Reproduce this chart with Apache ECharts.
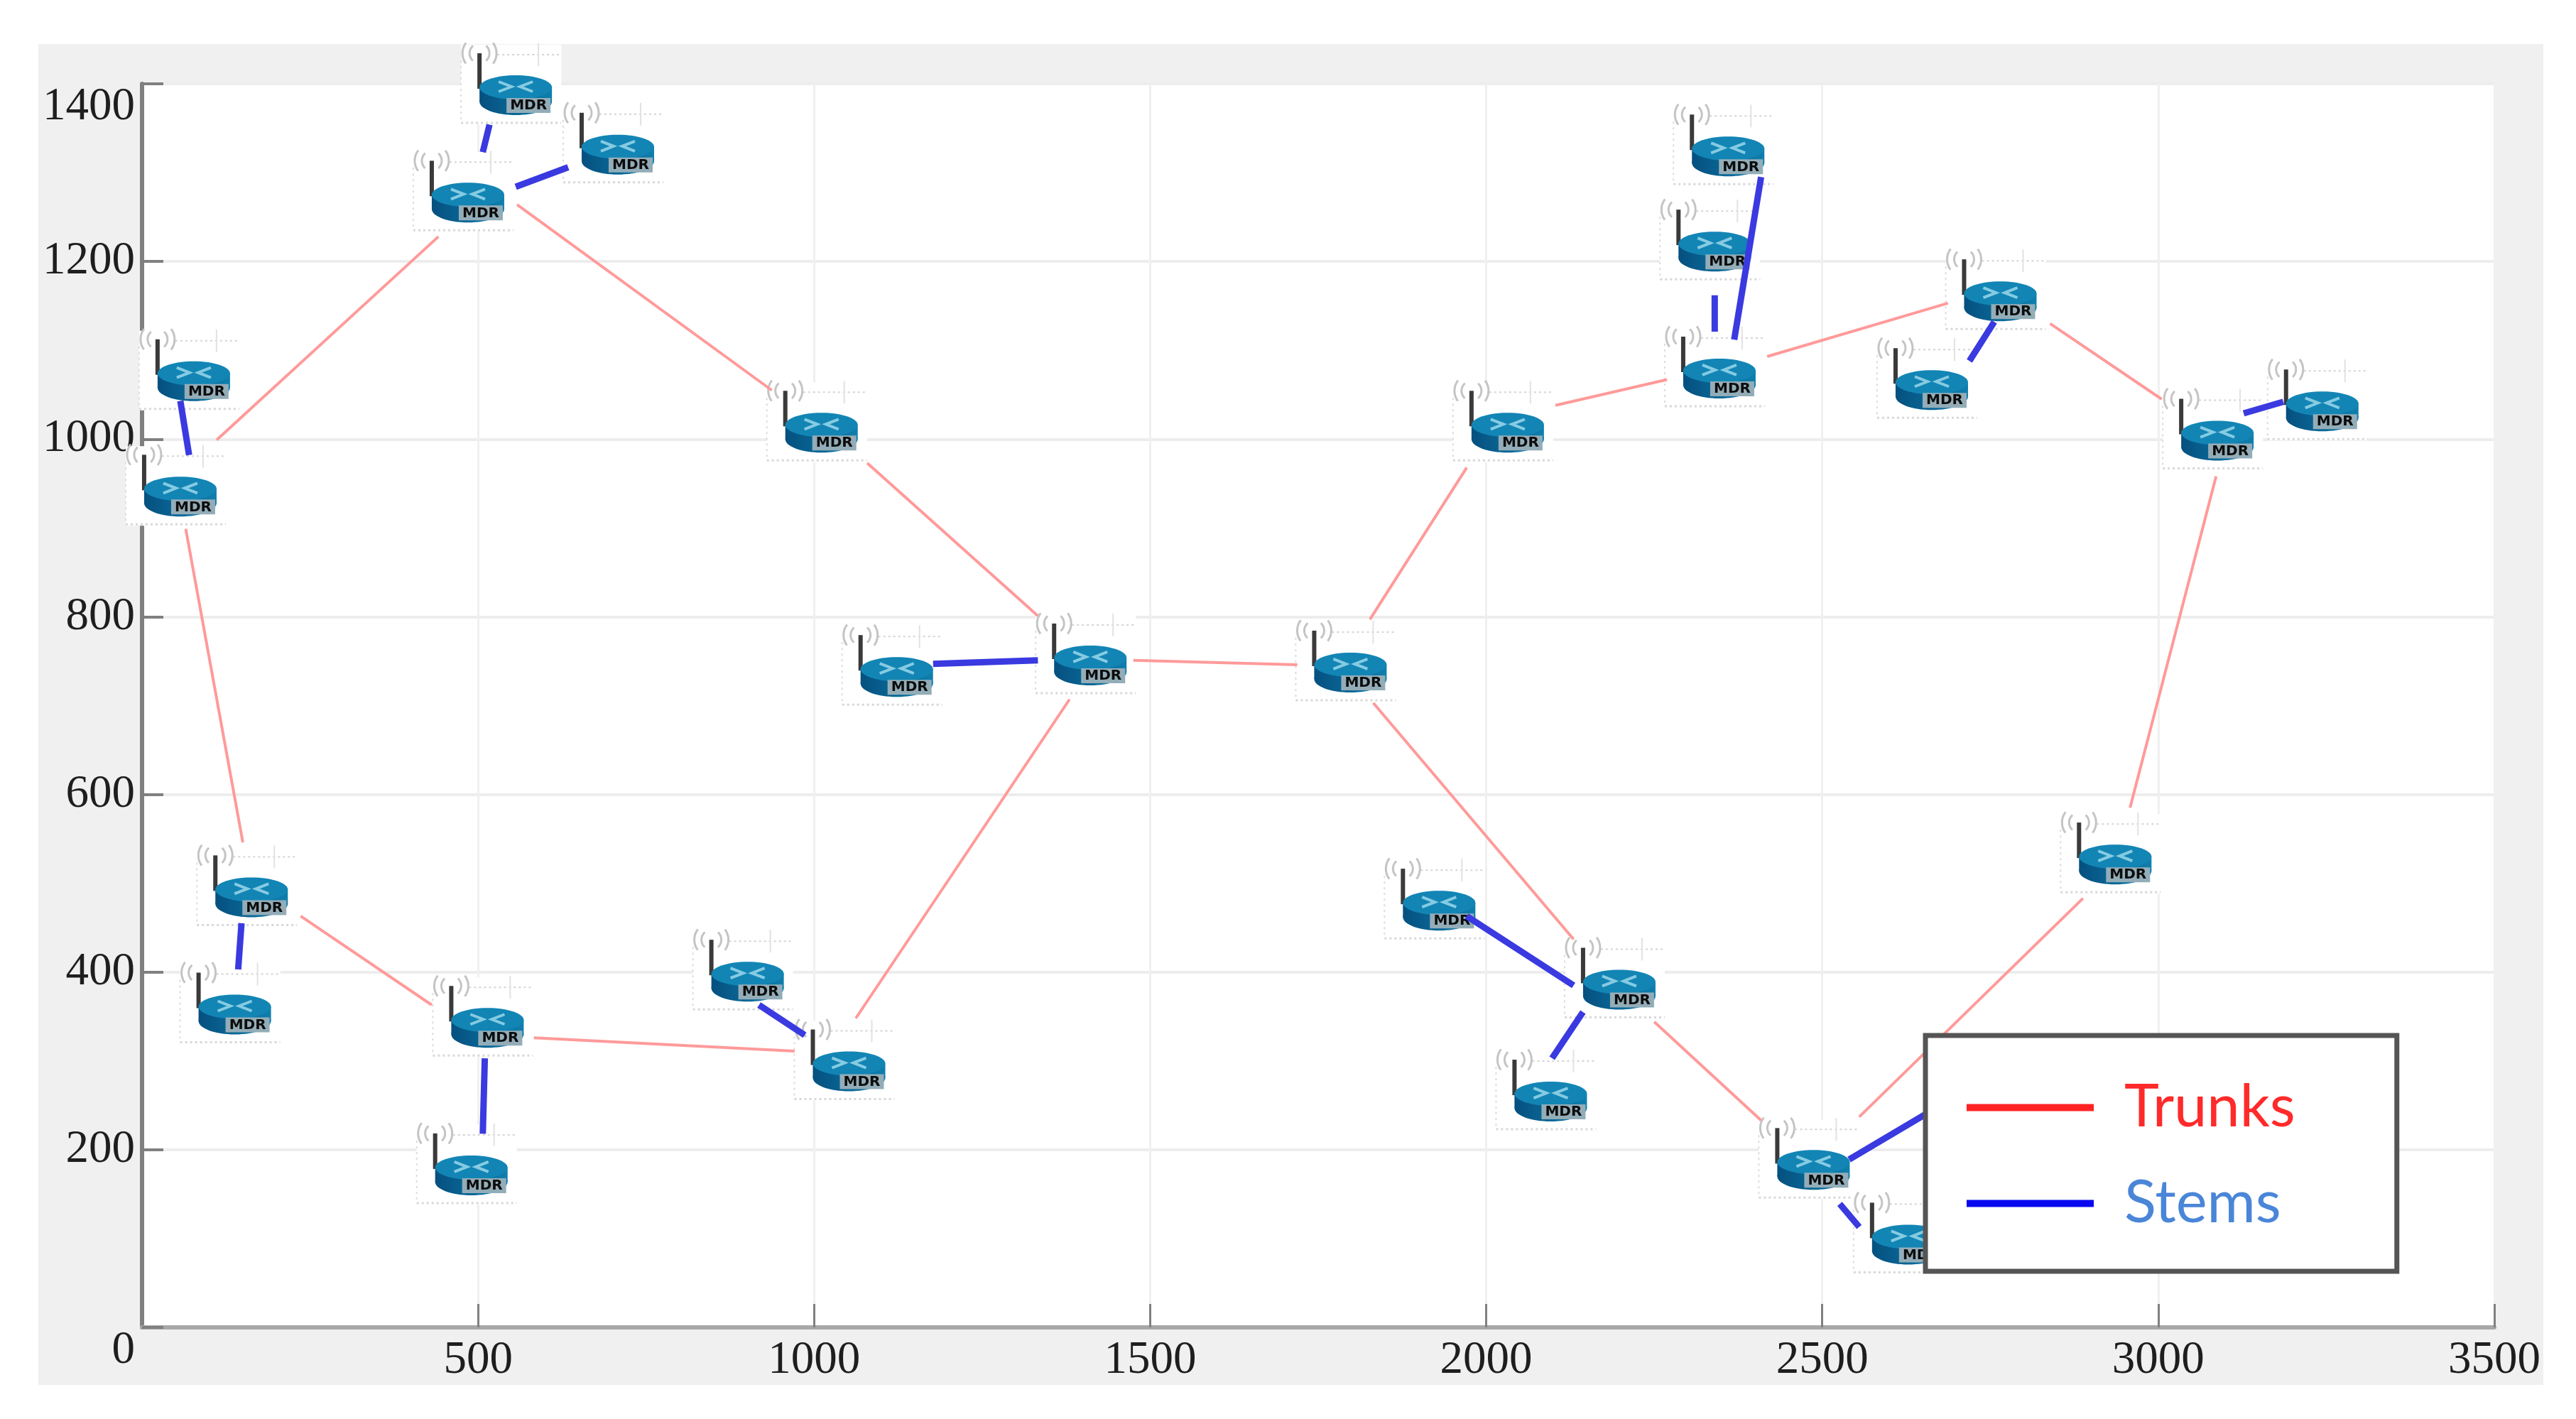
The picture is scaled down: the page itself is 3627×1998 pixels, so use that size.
<!DOCTYPE html>
<html>
<head>
<meta charset="utf-8">
<title>Trunks and stems</title>
<script src="https://cdn.jsdelivr.net/npm/echarts@6/dist/echarts.min.js"></script>
<style>
  html, body { margin: 0; background: #fff; }
  #panel { position: absolute; left: 54px; top: 62px; width: 3527px; height: 1888px; background: #f0f0f0; }
  #chart { position: absolute; left: 0; top: 0; width: 3627px; height: 1998px; }
</style>
</head>
<body>
<div id="panel"></div>
<div id="chart"></div>
<script>
// router positions (centre of each icon)
const nodeX = [57, 77, 485, 556, 708, 1011, 1411, 1123, 1052, 901, 514, 490, 163, 138, 1798,
  2032, 2347, 2340, 2360, 2765, 2663, 3088, 3244, 2936, 2487, 2198, 1930, 2096, 2812, 2628];
const nodeY = [936, 1066, 1267, 1388, 1321, 1008, 746, 733, 289, 390, 338, 172, 485, 353, 738,
  1008, 1069, 1212, 1319, 1156, 1056, 999, 1032, 522, 178, 381, 470, 255, 265, 94];

// visible part of each link: x1, y1, x2, y2
const trunkSegments = [
  [111, 999, 441, 1228], [558, 1264, 937, 1055], [1079, 973, 1333, 801], [1475, 751, 1719, 746],
  [1827, 797, 1971, 968], [2103, 1038, 2269, 1067], [2418, 1093, 2687, 1153], [2839, 1130, 3005, 1045],
  [3086, 958, 2958, 585], [2888, 483, 2555, 237], [2409, 233, 2250, 344], [2130, 437, 1832, 703],
  [1380, 707, 1062, 348], [971, 311, 583, 326], [431, 363, 236, 463], [150, 546, 65, 899]
];
const stemSegments = [
  [70, 982, 57, 1043], [507, 1323, 517, 1354], [556, 1284, 634, 1306], [148, 455, 143, 403],
  [510, 303, 507, 218], [986, 329, 918, 363], [1333, 751, 1177, 747], [2130, 385, 1971, 463],
  [2144, 355, 2098, 303], [2540, 189, 2812, 311], [2526, 139, 2555, 113], [2340, 1162, 2340, 1121],
  [2409, 1295, 2369, 1112], [2756, 1132, 2719, 1088], [3127, 1029, 3186, 1042]
];

const xTicks = [0, 500, 1000, 1500, 2000, 2500, 3000, 3500];
const yTicks = [0, 200, 400, 600, 800, 1000, 1200, 1400];

// line series breaks on '-' so every link stays a separate stroke
function toLineData(segments) {
  const out = [];
  segments.forEach(s => {
    out.push([s[0], s[1]], [s[2], s[3]], ['-', '-']);
  });
  return out;
}

function wave(r, start, end) {
  return {
    type: 'arc',
    shape: { cx: -51, cy: -58, r: r, startAngle: start, endAngle: end },
    style: { fill: null, stroke: '#c4c4c4', lineWidth: 3 }
  };
}

// one MDR router icon, drawn around its data position
function renderRouter(params, api) {
  const p = api.coord([api.value(0), api.value(1)]);
  return {
    type: 'group',
    x: p[0],
    y: p[1],
    children: [
      { type: 'rect', shape: { x: -77, y: -70, width: 141, height: 112 }, style: { fill: '#fff' } },
      { type: 'line', shape: { x1: -77, y1: -48, x2: -77, y2: 40 },
        style: { stroke: '#dcdcdc', lineWidth: 2, lineDash: [3, 5] } },
      { type: 'line', shape: { x1: -77, y1: 40, x2: 64, y2: 40 },
        style: { stroke: '#d8d8d8', lineWidth: 3, lineDash: [3, 4] } },
      { type: 'line', shape: { x1: -26, y1: -56, x2: 62, y2: -56 },
        style: { stroke: '#d4d4d4', lineWidth: 2, lineDash: [3, 4] } },
      { type: 'line', shape: { x1: 32, y1: -72, x2: 32, y2: -40 },
        style: { stroke: '#e2e2e2', lineWidth: 2 } },
      wave(14, 2.3, 4), wave(24, 2.5, 3.8), wave(14, -0.85, 0.85), wave(24, -0.65, 0.65),
      { type: 'rect', shape: { x: -54, y: -58, width: 6, height: 50 }, style: { fill: '#3a3a3a' } },
      { type: 'rect', shape: { x: -51, y: -10, width: 102, height: 20 },
        style: {
          fill: {
            type: 'linear', x: 0, y: 0, x2: 1, y2: 0,
            colorStops: [{ offset: 0, color: '#05507f' }, { offset: 1, color: '#0f7fae' }]
          }
        } },
      { type: 'ellipse', shape: { cx: 0, cy: 10, rx: 51, ry: 19 },
        style: {
          fill: {
            type: 'linear', x: 0, y: 0, x2: 1, y2: 0,
            colorStops: [{ offset: 0, color: '#05507f' }, { offset: 1, color: '#0f7fae' }]
          }
        } },
      { type: 'ellipse', shape: { cx: 0, cy: -10, rx: 51, ry: 17 }, style: { fill: '#1285b5' } },
      { type: 'polyline', shape: { points: [[-24, -18], [-6, -11], [-24, -4]] },
        style: { fill: null, stroke: '#86cbe2', lineWidth: 4 } },
      { type: 'polyline', shape: { points: [[24, -18], [6, -11], [24, -4]] },
        style: { fill: null, stroke: '#86cbe2', lineWidth: 4 } },
      { type: 'rect', shape: { x: -13, y: 5, width: 62, height: 21 }, style: { fill: '#93adb8' } },
      { type: 'text', style: { text: 'MDR', x: 18, y: 16, align: 'center', verticalAlign: 'middle',
        fill: '#0c0c0c', font: 'bold 20px "DejaVu Sans"' } }
    ]
  };
}

const chart = echarts.init(document.getElementById('chart'));

chart.setOption({
  animation: false,
  backgroundColor: 'transparent',
  grid: { left: 200, top: 118, width: 3312, height: 1751, show: true, backgroundColor: '#fff', borderWidth: 0 },
  xAxis: {
    type: 'value',
    min: xTicks[0],
    max: xTicks[xTicks.length - 1],
    interval: 500,
    axisLine: { show: true, onZero: false, lineStyle: { color: '#a8a8a8', width: 6 } },
    axisTick: { show: true, inside: true, length: 33, lineStyle: { color: '#808080', width: 3 } },
    splitLine: { show: true, lineStyle: { color: '#f0f0f0', width: 3 } },
    axisLabel: {
      showMinLabel: false, margin: 14, color: '#1e1e1e', fontFamily: 'Liberation Serif', fontSize: 65,
      formatter: v => String(v)
    }
  },
  yAxis: {
    type: 'value',
    min: yTicks[0],
    max: yTicks[yTicks.length - 1],
    interval: 200,
    axisLine: { show: true, onZero: false, lineStyle: { color: '#808080', width: 6 } },
    axisTick: { show: true, inside: true, length: 30, lineStyle: { color: '#808080', width: 4 } },
    splitLine: { show: true, lineStyle: { color: '#ededed', width: 4 } },
    axisLabel: {
      margin: 10, color: '#1e1e1e', fontFamily: 'Liberation Serif', fontSize: 65,
      verticalAlignMinLabel: 'top', verticalAlignMaxLabel: 'top',
      formatter: v => String(v)
    }
  },
  legend: {
    orient: 'vertical',
    left: 2711,
    top: 1458,
    z: 20,
    selectedMode: false,
    backgroundColor: '#fff',
    borderColor: '#555',
    borderWidth: 7,
    padding: [60, 143, 54, 58],
    itemWidth: 179,
    itemHeight: 10,
    itemGap: 52,
    textStyle: { fontFamily: 'Lato', fontSize: 83, padding: [0, 0, 0, 38] },
    data: [
      { name: 'Trunks', icon: 'rect', itemStyle: { color: '#ff2222' }, textStyle: { color: '#ff2a2a' } },
      { name: 'Stems', icon: 'rect', itemStyle: { color: '#0808f0' }, textStyle: { color: '#4a86d8' } }
    ]
  },
  series: [
    {
      name: 'Routers',
      type: 'custom',
      z: 3,
      renderItem: renderRouter,
      encode: { x: 0, y: 1 },
      data: nodeX.map((x, i) => [x, nodeY[i]])
    },
    {
      name: 'Trunks',
      type: 'line',
      z: 4,
      symbol: 'none',
      connectNulls: false,
      lineStyle: { color: '#ff9a9a', width: 4 },
      itemStyle: { color: '#ff2222' },
      data: toLineData(trunkSegments)
    },
    {
      name: 'Stems',
      type: 'line',
      z: 4,
      symbol: 'none',
      connectNulls: false,
      lineStyle: { color: '#3a3ae0', width: 9 },
      itemStyle: { color: '#0808f0' },
      data: toLineData(stemSegments)
    }
  ]
});
</script>
</body>
</html>
